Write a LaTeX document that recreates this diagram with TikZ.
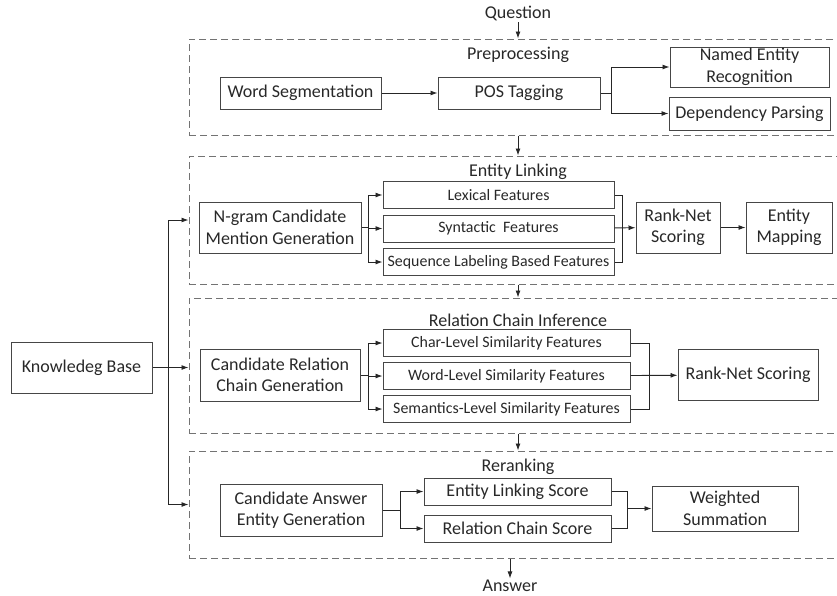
\documentclass[tikz,border=0pt]{standalone}
\usepackage{fontspec}
\setmainfont{Carlito}
\usepackage{tikz}
\usetikzlibrary{arrows.meta,positioning}
\definecolor{boxline}{RGB}{70,70,70}
\definecolor{dashgray}{RGB}{115,115,115}
\definecolor{txt}{RGB}{40,40,40}

\begin{document}
\begin{tikzpicture}[x=1pt,y=-1pt,font=\fontsize{18}{21.5}\selectfont,>={Latex[length=7pt,width=5pt]},
  t/.style={text=txt,inner sep=1.5pt},
  b/.style={draw=boxline,line width=1pt,text=txt,align=center,inner sep=1pt},
  fb/.style={b,font=\fontsize{15.9}{19}\selectfont,minimum height=27pt},
  grp/.style={draw=dashgray,line width=1pt,dash pattern=on 7pt off 4pt},
  ln/.style={line width=0.9pt,draw=black!85}]
\useasboundingbox (0,0) rectangle (837,595);
\clip (0,0) rectangle (837,595);

% dashed stages (right side runs off the page)
\node[grp,minimum width=681pt,minimum height=96pt] (pre) at (529.5,87) {};
\node[grp,minimum width=681pt,minimum height=128pt] (el) at (529.5,220) {};
\node[grp,minimum width=681pt,minimum height=135pt] (rci) at (529.5,365.5) {};
\node[grp,minimum width=681pt,minimum height=107pt] (rr) at (529.5,504.5) {};
\node[t] (prelbl) at (518,55) {Preprocessing};
\node[t] (ellbl) at (518,172) {Entity Linking};
\node[t] (rcilbl) at (518,320) {Relation Chain Inference};
\node[t] (rrlbl) at (518,467) {Reranking};

\node[t] (q) at (518,13) {Question};
\node[t] (ans) at (510,586) {Answer};
\node[b,minimum width=141pt,minimum height=51pt] (kb) at (81.5,367.5) {Knowledeg Base};

% preprocessing
\node[b,minimum width=161pt,minimum height=32pt] (ws) at (300.5,93) {Word Segmentation};
\node[b,minimum width=162pt,minimum height=32pt] (pos) at (519,93) {POS Tagging};
\node[b,minimum width=159pt,minimum height=40pt] (ner) at (749.5,67) {Named Entity\\Recognition};
\node[b,minimum width=161pt,minimum height=33pt] (dp) at (749.5,113.5) {Dependency Parsing};

% entity linking
\node[b,minimum width=162pt,minimum height=51pt] (ngram) at (280,227.5) {N-gram Candidate\\Mention Generation};
\node[fb,minimum width=231pt] (lex) at (498.5,195) {Lexical Features};
\node[fb,minimum width=231pt,below=5.5pt of lex] (syn) {Syntactic\ \ Features};
\node[fb,minimum width=231pt,below=5.5pt of syn] (seq) {Sequence Labeling Based Features};
\node[b,minimum width=84pt,minimum height=51pt] (rank1) at (678,227.5) {Rank-Net\\Scoring};
\node[b,minimum width=86pt,minimum height=51pt] (emap) at (789,227.5) {Entity\\Mapping};

% relation chain inference
\node[b,minimum width=160pt,minimum height=52pt] (crcg) at (280,375) {Candidate Relation\\Chain Generation};
\node[fb,minimum width=247pt] (chr) at (506.5,343) {Char-Level Similarity Features};
\node[fb,minimum width=247pt,below=5pt of chr] (wrd) {Word-Level Similarity Features};
\node[fb,minimum width=247pt,below=5pt of wrd] (sem) {Semantics-Level Similarity Features};
\node[b,minimum width=140pt,minimum height=51pt] (rank2) at (748,375) {Rank-Net Scoring};

% reranking
\node[b,minimum width=162pt,minimum height=52pt] (cae) at (301,510) {Candidate Answer\\Entity Generation};
\node[b,minimum width=187pt,minimum height=27pt] (els) at (517.5,491.5) {Entity Linking Score};
\node[b,minimum width=187pt,minimum height=27pt,below=9pt of els] (rcs) {Relation Chain Score};
\node[b,minimum width=146pt,minimum height=45pt] (wsum) at (725,508.5) {Weighted\\Summation};

% stage to stage
\draw[ln,->] (q) -- (q |- pre.north);
\draw[ln,->] (pre.south -| q) -- (el.north -| q);
\draw[ln,->] (el.south -| q) -- (rci.north -| q);
\draw[ln,->] (rci.south -| q) -- (rr.north -| q);
\draw[ln,->] (rr.south -| ans) -- (ans);

% knowledge base
\draw[ln] (kb.east) -- ++(16,0) coordinate (kj);
\draw[ln,->] (kj) -- (kj -| rci.west);
\draw[ln,->] (kj) |- (el.west);
\draw[ln,->] (kj) |- (rr.west);

% inside preprocessing
\draw[ln,->] (ws) -- (pos);
\draw[ln] (pos.east) -- ++(11,0) coordinate (pj);
\draw[ln,->] (pj) |- (ner);
\draw[ln,->] (pj) |- (dp);

% inside entity linking
\draw[ln] (ngram.east) -- ++(7,0) coordinate (nj);
\foreach \f in {lex,syn,seq} \draw[ln,->] (nj) |- (\f);
\draw[ln] (lex.east) -- ++(8,0) |- (seq.east);
\draw[ln,->] (syn) -- (rank1);
\draw[ln,->] (rank1) -- (emap);

% inside relation chain inference
\draw[ln] (crcg.east) -- ++(8,0) coordinate (cj);
\foreach \f in {chr,wrd,sem} \draw[ln,->] (cj) |- (\f);
\draw[ln] (chr.east) -- ++(19,0) |- (sem.east);
\draw[ln,->] (wrd) -- (rank2);

% inside reranking
\draw[ln] (cae.east) -- ++(18,0) coordinate (aj);
\draw[ln,->] (aj) |- (els);
\draw[ln,->] (aj) |- (rcs);
\draw[ln] (els.east) -- ++(16,0) coordinate (rj) |- (rcs.east);
\draw[ln,->] (rj |- wsum.west) -- (wsum.west);
\end{tikzpicture}
\end{document}
